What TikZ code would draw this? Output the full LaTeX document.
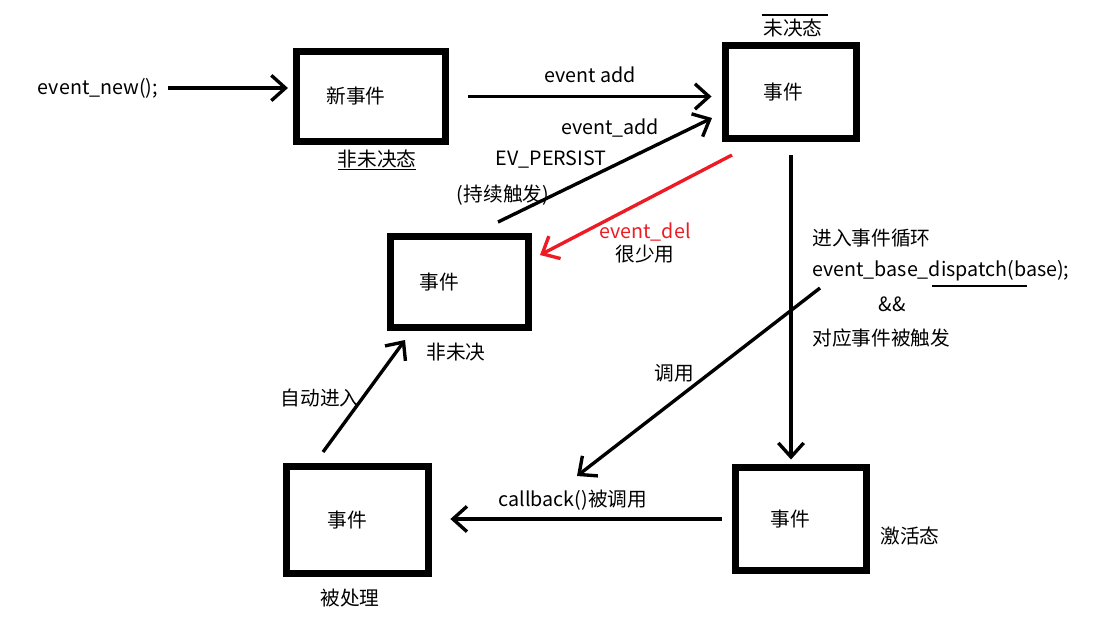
\documentclass[tikz,border=0pt]{standalone}
\usepackage{fontspec}
\setmainfont{Noto Sans CJK SC}
\usetikzlibrary{arrows.meta}
\definecolor{delred}{RGB}{237,28,36}

\begin{document}
\begin{tikzpicture}[x=0.025cm,y=-0.025cm,->,>={Straight Barb[length=10pt,width=18pt]},
        line width=2.4pt,every node/.style={font=\fontsize{14pt}{16pt}\selectfont},
        evbox/.style={draw,line width=5.5pt,inner sep=0pt}]

  \useasboundingbox (0,0) rectangle (1102,639);

  \node[evbox,minimum width=3.72cm,minimum height=2.25cm] (newev) at (371,96.5) {新事件\hspace*{0.75cm}};
  \node[evbox,minimum width=3.28cm,minimum height=2.32cm] (pend) at (791,92) {事件\hspace*{0.4cm}};
  \node[evbox,minimum width=3.45cm,minimum height=2.28cm] (nonpend) at (459.5,282) {事件\hspace*{1cm}};
  \node[evbox,minimum width=3.55cm,minimum height=2.68cm] (done) at (357.5,520) {事件\hspace*{0.5cm}};
  \node[evbox,minimum width=3.28cm,minimum height=2.58cm] (active) at (801,519) {\raisebox{-0.15cm}{事件}\hspace*{0.55cm}};

  \node (newlbl) at (377,160) {\underline{非未决态}};
  \node (pendlbl) at (793,28) {未决态};
  \node (nonpendlbl) at (456,352) {非未决};
  \node (donelbl) at (350,598) {被处理};
  \node (activelbl) at (910,536) {激活态};
  \draw[-,line width=0.8pt] (762,15) -- (828,15);

  \node (newcall) at (98,88) {event\_new();};
  \draw[shorten <=0.1cm,shorten >=0.12cm] (newcall.east) -- (newcall.east -| newev.west);

  \node (addlbl) at (590,75) {event add};
  \draw[shorten <=0.47cm,shorten >=0.25cm] (newev.east) -- (newev.east -| pend.west);

  \coordinate (persistfrom) at (498,222);
  \coordinate (persistto) at (712,118);
  \node (addlbl2) at (610,128) {event\_add};
  \node (persistlbl) at (551,160) {EV\_PERSIST};
  \node (persistlbl2) at (503,195) {(持续触发)};
  \draw (persistfrom) -- (persistto);

  \coordinate (delfrom) at (732,155);
  \coordinate (delto) at (540,255);
  \node[text=delred] (dellbl) at (645,232) {event\_del};
  \node (dellbl2) at (645,254) {很少用};
  \draw[delred] (delfrom) -- (delto);

  \draw[shorten <=0.33cm,shorten >=0.1cm] (pend.south) -- (pend.south |- active.north);
  \node[anchor=west] (looplbl) at (806,238) {进入事件循环};
  \node[anchor=west] (dispatchlbl) at (806,271) {event\_base\_dispatch(base);};
  \node (andlbl) at (892,304) {\&\&};
  \node[anchor=west] (firelbl) at (806,338) {对应事件被触发};
  \draw[-,line width=0.8pt] (932,286) -- (1027,286);

  \coordinate (callfrom) at (820,288);
  \coordinate (callto) at (577,476);
  \node (calllbl) at (674,373) {调用};
  \draw (callfrom) -- (callto);

  \node (cblbl) at (573,500) {callback()被调用};
  \draw[shorten <=0.25cm,shorten >=0.45cm] (active.west) -- (active.west -| done.east);

  \coordinate (autofrom) at (323,452);
  \coordinate (autoto) at (405,340);
  \node (autolbl) at (320,398) {自动进入};
  \draw (autofrom) -- (autoto);

\end{tikzpicture}
\end{document}
